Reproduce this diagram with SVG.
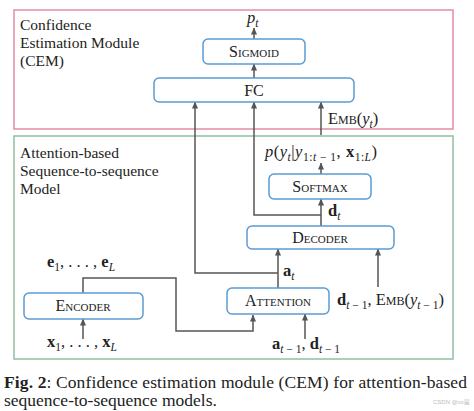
<svg xmlns="http://www.w3.org/2000/svg" width="474" height="411" viewBox="0 0 474 411" font-family="'Liberation Serif', serif">
<defs>
<marker id="ah" viewBox="0 0 8 8" refX="7.5" refY="4" markerWidth="7" markerHeight="7" markerUnits="userSpaceOnUse" orient="auto">
<path d="M0,0.5 L8,4 L0,7.5 z" fill="#555"/>
</marker>
<style>
text{fill:#222}
.node rect{fill:#fff;stroke:#5b9bd5;stroke-width:1.5}
.nl{font-size:16px;font-variant:small-caps;text-anchor:middle}
.lbl{font-size:15.5px}
.m{font-size:16.5px}
.it{font-style:italic}
.b{font-weight:bold}
.s{font-size:11.5px}
.c line,.c path{fill:none;stroke:#555;stroke-width:1.5}
.arr{marker-end:url(#ah)}
.cap{font-size:17.5px}
</style>
</defs>
<rect width="474" height="411" fill="#fff"/>
<g id="cem">
<rect x="14" y="10" width="439" height="119" fill="none" stroke="#e38ca2" stroke-width="1.5"/>
<text class="lbl" x="20" y="30">Confidence</text>
<text class="lbl" x="20" y="48">Estimation Module</text>
<text class="lbl" x="20" y="66">(CEM)</text>
</g>
<g id="s2s">
<rect x="14" y="136" width="439" height="223" fill="none" stroke="#8fc0a2" stroke-width="1.5"/>
<text class="lbl" x="20" y="158">Attention-based</text>
<text class="lbl" x="20" y="176">Sequence-to-sequence</text>
<text class="lbl" x="20" y="194">Model</text>
</g>
<g class="c" id="connectors">
<line class="arr" x1="254" y1="39" x2="254" y2="28"/>
<line class="arr" x1="254" y1="78" x2="254" y2="64"/>
<line class="arr" x1="278" y1="288" x2="278" y2="249"/>
<path class="arr" d="M278,273 H195 V102"/>
<line class="arr" x1="321" y1="226" x2="321" y2="199"/>
<path class="arr" d="M321,215 H254 V102"/>
<line class="arr" x1="321" y1="135" x2="321" y2="102"/>
<line class="arr" x1="321" y1="174" x2="321" y2="163"/>
<line class="arr" x1="378" y1="287" x2="378" y2="249"/>
<path class="arr" d="M83,293 V278 H176 V331 H253 V315"/>
<line class="arr" x1="305" y1="339" x2="305" y2="314"/>
<line class="arr" x1="83" y1="339" x2="83" y2="319"/>
</g>
<g id="sigmoid" class="node"><rect x="203" y="39" width="102" height="25" rx="5"/><text class="nl" x="254" y="57">Sigmoid</text></g>
<g id="fc" class="node"><rect x="154" y="78" width="200" height="24" rx="5"/><text class="nl" x="254" y="96">FC</text></g>
<g id="softmax" class="node"><rect x="269" y="174" width="102" height="25" rx="5"/><text class="nl" x="320" y="192">Softmax</text></g>
<g id="decoder" class="node"><rect x="247" y="226" width="147" height="23" rx="5"/><text class="nl" x="320" y="243">Decoder</text></g>
<g id="attention" class="node"><rect x="227" y="288" width="102" height="26" rx="5"/><text class="nl" x="278" y="306">Attention</text></g>
<g id="encoder" class="node"><rect x="24" y="293" width="119" height="26" rx="5"/><text class="nl" x="83" y="311">Encoder</text></g>
<g id="labels">
<text class="m" x="247" y="23"><tspan class="it">p</tspan><tspan class="s it" dy="3.5">t</tspan></text>
<text class="m" x="328" y="124"><tspan style="font-variant:small-caps">Emb</tspan>(<tspan class="it">y</tspan><tspan class="s it" dy="3.5">t</tspan><tspan dy="-3.5">)</tspan></text>
<text class="m" x="265" y="157" textLength="112" lengthAdjust="spacing"><tspan class="it">p</tspan>(<tspan class="it">y</tspan><tspan class="s it" dy="3.5">t</tspan><tspan dy="-3.5">|</tspan><tspan class="it">y</tspan><tspan class="s" dy="3.5">1:<tspan class="it">t</tspan> − 1</tspan><tspan dy="-3.5">, </tspan><tspan class="b">x</tspan><tspan class="s" dy="3.5">1:<tspan class="it">L</tspan></tspan><tspan dy="-3.5">)</tspan></text>
<text class="m" x="328" y="216"><tspan class="b">d</tspan><tspan class="s it" dy="3.5">t</tspan></text>
<text class="m" x="283" y="276"><tspan class="b">a</tspan><tspan class="s it" dy="3.5">t</tspan></text>
<text class="m" x="47" y="267"><tspan class="b">e</tspan><tspan class="s" dy="3.5">1</tspan><tspan dy="-3.5">, . . . , </tspan><tspan class="b">e</tspan><tspan class="s it" dy="3.5">L</tspan></text>
<text class="m" x="47" y="347"><tspan class="b">x</tspan><tspan class="s" dy="3.5">1</tspan><tspan dy="-3.5">, . . . , </tspan><tspan class="b">x</tspan><tspan class="s it" dy="3.5">L</tspan></text>
<text class="m" x="272" y="349"><tspan class="b">a</tspan><tspan class="s" dy="3.5"><tspan class="it">t</tspan> − 1</tspan><tspan dy="-3.5">, </tspan><tspan class="b">d</tspan><tspan class="s" dy="3.5"><tspan class="it">t</tspan> − 1</tspan></text>
<text class="m" x="337" y="305"><tspan class="b">d</tspan><tspan class="s" dy="3.5"><tspan class="it">t</tspan> − 1</tspan><tspan dy="-3.5">, </tspan><tspan style="font-variant:small-caps">Emb</tspan>(<tspan class="it">y</tspan><tspan class="s" dy="3.5"><tspan class="it">t</tspan> − 1</tspan><tspan dy="-3.5">)</tspan></text>
</g>
<g id="caption">
<text class="cap" x="4" y="388" textLength="463" lengthAdjust="spacing"><tspan class="b">Fig. 2</tspan>:  Confidence estimation module (CEM) for attention-based</text>
<text class="cap" x="4" y="406">sequence-to-sequence models.</text>
<text x="433" y="404" style="font-family:'Liberation Sans','Noto Sans CJK SC',sans-serif;font-size:6px;fill:#bbb">CSDN @xx是</text>
</g>
</svg>
